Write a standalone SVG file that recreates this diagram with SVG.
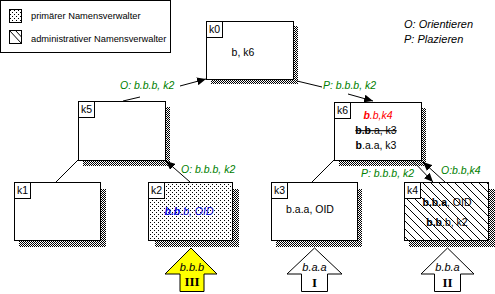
<svg xmlns="http://www.w3.org/2000/svg" width="495" height="294" viewBox="0 0 495 294">
<style>
text{font-family:"Liberation Sans",Arial,sans-serif;font-size:10.5px;fill:#000}
.box{fill:#fff;stroke:#000;stroke-width:1}
.lbl{fill:#fff;stroke:#000;stroke-width:1}
.sh{fill:url(#shade)}
.ln{stroke:#000;stroke-width:1;fill:none}
.arr{marker-end:url(#ah)}
.g{fill:#008000;font-style:italic}
.b{font-weight:bold}
.big{stroke:#000;stroke-width:1}
.num{font-family:"Liberation Serif","Times New Roman",serif;font-weight:bold;font-size:13px}
.it{font-style:italic;font-size:11px}
</style>
<defs>
<pattern id="shade" width="2" height="2" patternUnits="userSpaceOnUse"><rect width="1" height="1" fill="#000"/><rect x="1" y="1" width="1" height="1" fill="#000"/></pattern>
<pattern id="dots" width="4" height="4" patternUnits="userSpaceOnUse"><rect width="4" height="4" fill="#fff"/><rect width="1" height="1" fill="#000"/><rect x="2" y="2" width="1" height="1" fill="#000"/></pattern>
<pattern id="hatch" width="8" height="8" patternUnits="userSpaceOnUse"><rect width="8" height="8" fill="#fff"/><path d="M0,0 L8,8 M-2,6 L2,10 M6,-2 L10,2" stroke="#000" stroke-width="1"/></pattern>
<marker id="ah" markerWidth="10" markerHeight="8" refX="9" refY="4" orient="auto" markerUnits="userSpaceOnUse"><path d="M0,0 L9,4 L0,8 Z" fill="#000"/></marker>
</defs>
<rect width="495" height="294" fill="#fff"/>

<g id="legend">
<rect x="0.5" y="0.5" width="170" height="52" fill="#fff" stroke="#000"/>
<rect x="9.5" y="9.5" width="12" height="13" fill="url(#dots)" stroke="#000"/>
<text x="31" y="19" style="font-size:9.3px">primärer Namensverwalter</text>
<rect x="9.5" y="30.5" width="12" height="13" fill="#fff" stroke="#000"/>
<path d="M9.5,30.5 L21.5,43.5 M15.5,30.5 L21.5,37" stroke="#000" fill="none"/>
<text x="31" y="42" style="font-size:9.3px">administrativer Namensverwalter</text>
</g>

<g id="key">
<text x="404" y="28" class="it">O: Orientieren</text>
<text x="404" y="43" class="it">P: Plazieren</text>
</g>

<g id="connectors">
<path class="ln" d="M123,101 L140,97"/>
<path class="ln arr" d="M180,86 L206,79"/>
<text x="120" y="89" class="g">O: b.b.b, k2</text>
<path class="ln" d="M297,81 L322,87"/>
<path class="ln arr" d="M348,94 L373,101"/>
<text x="323" y="89" class="g">P: b.b.b, k2</text>
<path class="ln" d="M56,182 L78,160"/>
<path class="ln arr" d="M190,182 L166,161"/>
<text x="181" y="173" class="g">O: b.b.b, k2</text>
<path class="ln" d="M312,182 L334,160"/>
<path class="ln arr" d="M411,159 L433,182"/>
<text x="361" y="177" class="g">P: b.b.b, k2</text>
<path class="ln arr" d="M445,182 L423,162"/>
<text x="441" y="174" class="g">O:b.b,k4</text>
</g>

<g id="k0">
<rect class="sh" x="211" y="26" width="87" height="58"/>
<rect class="box" x="206.5" y="21.5" width="87" height="58"/>
<rect class="lbl" x="206.5" y="21.5" width="16" height="16"/>
<text x="209" y="33">k0</text>
<text x="243" y="56" text-anchor="middle">b, k6</text>
</g>

<g id="k5">
<rect class="sh" x="83" y="107" width="87" height="59"/>
<rect class="box" x="78.5" y="101.5" width="87" height="59"/>
<rect class="lbl" x="78.5" y="101.5" width="16" height="16"/>
<text x="81" y="113">k5</text>
</g>

<g id="k6">
<rect class="sh" x="339" y="108" width="87" height="58"/>
<rect class="box" x="334.5" y="102.5" width="87" height="58"/>
<rect class="lbl" x="334.5" y="102.5" width="16" height="16"/>
<text x="337" y="114">k6</text>
<text x="378" y="119" text-anchor="middle" style="fill:#f00;font-style:italic"><tspan class="b">b</tspan>.b,k4</text>
<text x="376" y="134" text-anchor="middle" text-decoration="line-through"><tspan class="b">b.b</tspan>.a, k3</text>
<text x="376" y="149" text-anchor="middle"><tspan class="b">b</tspan>.a.a, k3</text>
</g>

<g id="k1">
<rect class="sh" x="19" y="189" width="87" height="58"/>
<rect class="box" x="14.5" y="182.5" width="86" height="58"/>
<rect class="lbl" x="14.5" y="182.5" width="16" height="16"/>
<text x="17" y="194">k1</text>
</g>

<g id="k2">
<rect class="sh" x="155" y="189" width="84" height="58"/>
<rect x="148.5" y="182.5" width="84" height="58" fill="url(#dots)" stroke="#000"/>
<rect class="lbl" x="148.5" y="182.5" width="16" height="16"/>
<text x="151" y="194">k2</text>
<text x="189" y="215" text-anchor="middle" style="fill:#0000e0;font-style:italic"><tspan class="b">b.b</tspan>.b, OID</text>
</g>

<g id="k3">
<rect class="sh" x="276" y="189" width="86" height="58"/>
<rect class="box" x="271.5" y="182.5" width="86" height="58"/>
<rect class="lbl" x="271.5" y="182.5" width="16" height="16"/>
<text x="274" y="194">k3</text>
<text x="310" y="213" text-anchor="middle">b.a.a, OID</text>
</g>

<g id="k4">
<rect class="sh" x="409" y="189" width="86" height="58"/>
<rect x="404.5" y="182.5" width="84" height="58" fill="url(#hatch)" stroke="#000"/>
<rect class="lbl" x="404.5" y="182.5" width="16" height="16"/>
<text x="407" y="194">k4</text>
<text x="447" y="206" text-anchor="middle"><tspan class="b">b.b.a</tspan>, OID</text>
<text x="447" y="226" text-anchor="middle"><tspan class="b">b.b</tspan>.b, k2</text>
</g>

<g id="inIII">
<polygon class="big" points="191,248 217,274 204,274 204,291.5 180,291.5 180,274 165,274" fill="#ff0"/>
<text x="192" y="271" text-anchor="middle" class="it">b.b.b</text>
<text x="192" y="286" text-anchor="middle" class="num">III</text>
</g>

<g id="inI">
<polygon class="big" points="314.5,248 342,274 327.5,274 327.5,291.5 301.5,291.5 301.5,274 287,274" fill="#fff"/>
<text x="314.5" y="271" text-anchor="middle" class="it">b.a.a</text>
<text x="314.5" y="287" text-anchor="middle" class="num">I</text>
</g>

<g id="inII">
<polygon class="big" points="447.5,248 474,274 460.5,274 460.5,291.5 434.5,291.5 434.5,274 421,274" fill="#fff"/>
<text x="447.5" y="271" text-anchor="middle" class="it">b.b.a</text>
<text x="447.5" y="287" text-anchor="middle" class="num">II</text>
</g>
</svg>
